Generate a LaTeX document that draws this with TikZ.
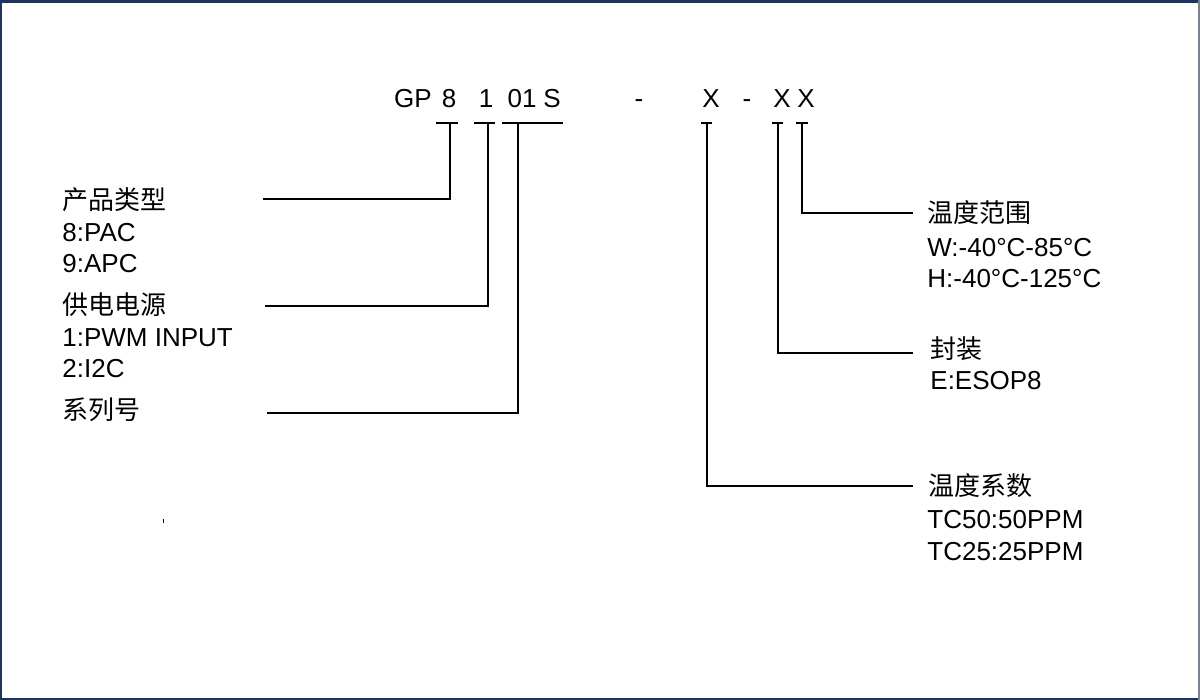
\documentclass[tikz,border=0pt]{standalone}
\usepackage{fontspec}
\setmainfont{Liberation Sans}
\newfontfamily\cjk{Noto Sans CJK SC}
\definecolor{framenavy}{RGB}{28,52,94}
\definecolor{framegray}{RGB}{120,130,145}
\begin{document}
\begin{tikzpicture}[x=0.5pt,y=-0.5pt,
  txt/.style={inner sep=0pt, font=\fontsize{13}{15}\selectfont},
  lbl/.style={txt, anchor=base west},
  codech/.style={txt, anchor=base},
  conn/.style={line width=0.8pt, black},
  tickbar/.style={line width=0.8pt, black}]
\useasboundingbox (0,0) rectangle (1200,700);
\fill[white] (0,0) rectangle (1200,700);
% frame
\draw[framenavy, line width=1.3pt] (1,0) -- (1,700);
\draw[framenavy, line width=1.3pt] (0,1.3) -- (1200,1.3);
\draw[framenavy, line width=1.2pt] (0,698.8) -- (1200,698.8);
\draw[framegray, line width=0.8pt] (1199.2,0) -- (1199.2,700);

% part number
\node[codech] (gp) at (413,108) {GP};
\node[codech] (c8) at (449,108) {8};
\node[codech] (c1) at (486,108) {1};
\node[codech] (c01) at (522,108) {01};
\node[codech] (cs) at (552,108) {S};
\node[codech] (d1) at (639,108) {-};
\node[codech] (x1) at (711,108) {X};
\node[codech] (d2) at (747,108) {-};
\node[codech] (x2) at (782,108) {X};
\node[codech] (x3) at (806,108) {X};

% tick points
\coordinate (t8) at (450,123);
\coordinate (t1) at (488,123);
\coordinate (t01) at (518,123);
\coordinate (tx1) at (707,123);
\coordinate (tx2) at (778,123);
\coordinate (tx3) at (802,123);

\draw[tickbar] (436,123) -- (458,123);
\draw[tickbar] (474,123) -- (495,123);
\draw[tickbar] (502,123) -- (563,123);
\draw[tickbar] (701,123) -- (712,123);
\draw[tickbar] (772,123) -- (783,123);
\draw[tickbar] (796,123) -- (808,123);

% left labels
\node[lbl] (lt1) at (62,210) {\cjk 产品类型};
\node[lbl] (lt1a) at (62,242) {8:PAC};
\node[lbl] (lt1b) at (62,273) {9:APC};
\node[lbl] (lt2) at (62,315) {\cjk 供电电源};
\node[lbl] (lt2a) at (62,347) {1:PWM INPUT};
\node[lbl] (lt2b) at (62,378) {2:I2C};
\node[lbl] (lt3) at (62,420) {\cjk 系列号};

% right labels
\node[lbl] (rt1) at (927,223) {\cjk 温度范围};
\node[lbl] (rt1a) at (927,257) {W:-40°C-85°C};
\node[lbl] (rt1b) at (927,288) {H:-40°C-125°C};
\node[lbl] (rt2) at (930,358) {\cjk 封装};
\node[lbl] (rt2a) at (930,390) {E:ESOP8};
\node[lbl] (rt3) at (928,495) {\cjk 温度系数};
\node[lbl] (rt3a) at (927,528) {TC50:50PPM};
\node[lbl] (rt3b) at (927,560) {TC25:25PPM};

% connector ends
\coordinate (e1) at (263,199);
\coordinate (e2) at (265,306);
\coordinate (e3) at (267,413);
\coordinate (f1) at (913,213);
\coordinate (f2) at (913,353);
\coordinate (f3) at (913,486);

\draw[conn] (t8) |- (e1);
\draw[conn] (t1) |- (e2);
\draw[conn] (t01) |- (e3);
\draw[conn] (tx3) |- (f1);
\draw[conn] (tx2) |- (f2);
\draw[conn] (tx1) |- (f3);

% stray mark
\draw[line width=0.5pt] (163,519) -- (163,523);
\end{tikzpicture}
\end{document}
